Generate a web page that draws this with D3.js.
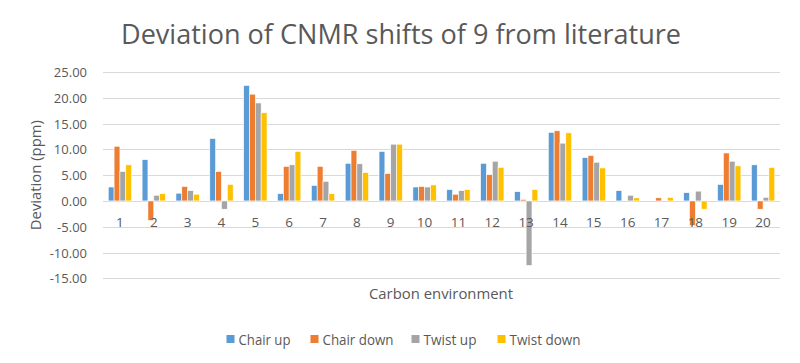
<!DOCTYPE html>
<html>
<head>
<meta charset="utf-8">
<script src="https://cdn.jsdelivr.net/npm/d3@7"></script>
<style>
  body { margin: 0; background: #fff; }
  text { font-family: "Open Sans", "Liberation Sans", sans-serif; fill: #595959; }
</style>
</head>
<body>
<div id="chart"></div>
<script>
// Data
const categories = d3.range(1, 21).map(String);
const seriesNames = ["Chair up", "Chair down", "Twist up", "Twist down"];
const chairUp   = [2.7, 8.0, 1.5, 12.1, 22.4, 1.4, 3.0, 7.3, 9.6, 2.7, 2.2, 7.3, 1.8, 13.3, 8.4, 2.0, 0.0, 1.6, 3.2, 7.0];
const chairDown = [10.6, -3.8, 2.8, 5.7, 20.7, 6.7, 6.7, 9.8, 5.3, 2.8, 1.3, 5.1, 0.3, 13.6, 8.8, 0.0, 0.6, -4.8, 9.3, -1.6];
const twistUp   = [5.7, 1.1, 2.0, -1.6, 19.0, 7.0, 3.8, 7.2, 11.0, 2.7, 2.0, 7.7, -12.5, 11.2, 7.5, 1.1, 0.0, 1.9, 7.7, 0.7];
const twistDown = [7.0, 1.4, 1.3, 3.2, 17.1, 9.6, 1.4, 5.5, 11.0, 3.1, 2.2, 6.5, 2.2, 13.2, 6.4, 0.6, 0.7, -1.6, 6.8, 6.5];
const yTicks = [-15, -10, -5, 0, 5, 10, 15, 20, 25];
const colors = ["#5B9BD5", "#ED7D31", "#A5A5A5", "#FFC000"];

const allSeries = [chairUp, chairDown, twistUp, twistDown];

const width = 800, height = 363;
const plotLeft = 103, plotRight = 780, plotTop = 72, plotBottom = 278.3;

const svg = d3.select("#chart").append("svg")
    .attr("width", width)
    .attr("height", height);

// Scales
const x = d3.scaleBand()
    .domain(categories)
    .range([plotLeft, plotRight])
    .paddingInner(0.31)
    .paddingOuter(0.155);

const xSub = d3.scaleBand()
    .domain(seriesNames)
    .range([0, x.bandwidth()]);

const y = d3.scaleLinear()
    .domain([-15, 25])
    .range([plotBottom, plotTop]);

// Gridlines
svg.append("g")
    .selectAll("line")
    .data(yTicks)
    .join("line")
    .attr("x1", plotLeft)
    .attr("x2", plotRight)
    .attr("y1", d => Math.round(y(d)) + 0.5)
    .attr("y2", d => Math.round(y(d)) + 0.5)
    .attr("stroke", "#D9D9D9")
    .attr("stroke-width", 1);

// Y tick labels
svg.append("g")
    .selectAll("text")
    .data(yTicks)
    .join("text")
    .attr("x", 87)
    .attr("y", d => y(d))
    .attr("text-anchor", "end")
    .attr("dominant-baseline", "central")
    .attr("font-size", 13)
    .text(d => d.toFixed(2));

// Bars
const rows = categories.map((c, i) => ({
    cat: c,
    values: seriesNames.map((s, j) => ({ series: s, idx: j, value: allSeries[j][i] }))
}));

const groups = svg.append("g")
    .selectAll("g")
    .data(rows)
    .join("g")
    .attr("transform", d => `translate(${x(d.cat)},0)`);

groups.selectAll("rect")
    .data(d => d.values)
    .join("rect")
    .attr("x", d => xSub(d.series))
    .attr("width", xSub.bandwidth())
    .attr("y", d => y(Math.max(0, d.value)))
    .attr("height", d => Math.abs(y(d.value) - y(0)))
    .attr("fill", d => colors[d.idx])
    .attr("stroke", "#fff")
    .attr("stroke-width", 0.6);

// Category labels (next to zero line)
svg.append("g")
    .selectAll("text")
    .data(categories)
    .join("text")
    .attr("x", d => x(d) + x.bandwidth() / 2)
    .attr("y", y(0) + 21)
    .attr("text-anchor", "middle")
    .attr("dominant-baseline", "central")
    .attr("font-size", 13.5)
    .text(d => d);

// Title
svg.append("text")
    .attr("x", 401)
    .attr("y", 33)
    .attr("text-anchor", "middle")
    .attr("dominant-baseline", "central")
    .attr("font-size", 27)
    .attr("textLength", 560)
    .attr("lengthAdjust", "spacingAndGlyphs")
    .text("Deviation of CNMR shifts of 9 from literature");

// Axis titles
svg.append("text")
    .attr("transform", `translate(35,${(plotTop + plotBottom) / 2}) rotate(-90)`)
    .attr("text-anchor", "middle")
    .attr("dominant-baseline", "central")
    .attr("font-size", 15)
    .attr("textLength", 110)
    .attr("lengthAdjust", "spacingAndGlyphs")
    .text("Deviation (ppm)");

svg.append("text")
    .attr("x", 441)
    .attr("y", 293)
    .attr("text-anchor", "middle")
    .attr("dominant-baseline", "central")
    .attr("font-size", 14.5)
    .attr("textLength", 144)
    .attr("lengthAdjust", "spacingAndGlyphs")
    .text("Carbon environment");

// Legend
const legendX = [226.5, 310.5, 411.5, 497.5];
const legendLen = [52, 71, 53, 71];
const legend = svg.append("g")
    .selectAll("g")
    .data(seriesNames)
    .join("g")
    .attr("transform", (d, i) => `translate(${legendX[i]},339)`);

legend.append("rect")
    .attr("x", 0)
    .attr("y", -4)
    .attr("width", 8)
    .attr("height", 8)
    .attr("fill", (d, i) => colors[i]);

legend.append("text")
    .attr("x", 12)
    .attr("y", 0)
    .attr("dominant-baseline", "central")
    .attr("font-size", 14)
    .attr("textLength", (d, i) => legendLen[i])
    .attr("lengthAdjust", "spacingAndGlyphs")
    .text(d => d);
</script>
</body>
</html>
